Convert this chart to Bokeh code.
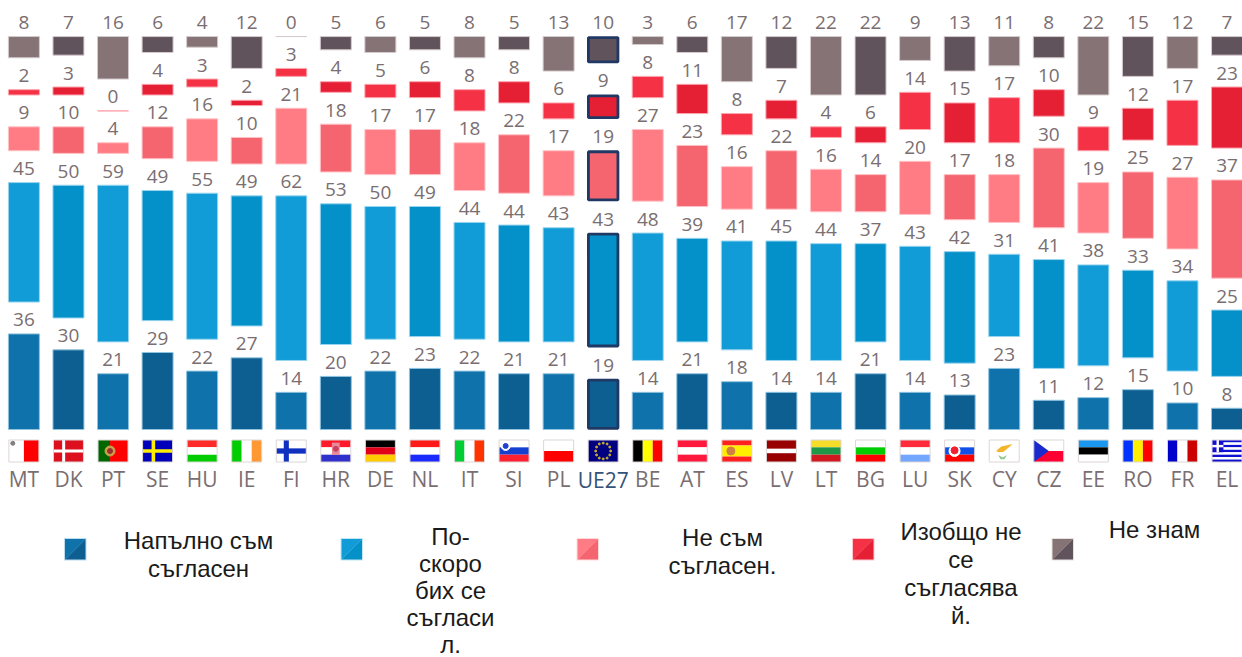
from bokeh.plotting import figure
from bokeh.models import Range1d, ColumnDataSource, FixedTicker
from bokeh.core.properties import value
from bokeh.embed import file_html
from bokeh.resources import INLINE

categories = ["MT","DK","PT","SE","HU","IE","FI","HR","DE","NL","IT","SI","PL","UE27",
              "BE","AT","ES","LV","LT","BG","LU","SK","CY","CZ","EE","RO","FR","EL"]
fully_agree = [36,30,21,29,22,27,14,20,22,23,22,21,21,19,14,21,18,14,14,21,14,13,23,11,12,15,10,8]
tend_agree = [45,50,59,49,55,49,62,53,50,49,44,44,43,43,48,39,41,45,44,37,43,42,31,41,38,33,34,25]
tend_disagree = [9,10,4,12,16,10,21,18,17,17,18,22,17,19,27,23,16,22,16,14,20,17,18,30,19,25,27,37]
fully_disagree = [2,3,0,4,3,2,3,4,5,6,8,8,6,9,8,11,8,7,4,6,14,15,17,10,9,12,17,23]
dont_know = [8,7,16,6,4,12,0,5,6,5,8,5,13,10,3,6,17,12,22,22,9,13,11,8,22,15,12,7]
series = [fully_agree, tend_agree, tend_disagree, fully_disagree, dont_know]

legend_lines = [
    ["Напълно съм", "съгласен"],
    ["По-", "скоро", "бих се", "съгласи", "л."],
    ["Не съм", "съгласен."],
    ["Изобщо не", "се", "съгласява", "й."],
    ["Не знам"],
]
light = ["#0F72AB", "#119CD8", "#FF7C85", "#F53145", "#857375"]
dark = ["#0E5F91", "#0490C9", "#F5656F", "#E52035", "#61535C"]
edge = ["#8FC3DF", "#9AD5EE", "#FFC2C6", "#FBA5AE", "#D5CBCD"]
TEXT = "#7A6E71"
NAVY = "#1F3864"

W, H_PAGE = 1242, 657
PX_X = 44.56
PX_Y = 2.655
GAP = 12
BASE_Y = 429
FIRST_X = 23.4

x_start = -FIRST_X / PX_X
y_top = BASE_Y / PX_Y
y_bot = (BASE_Y - H_PAGE) / PX_Y

p = figure(frame_width=W, frame_height=H_PAGE,
           x_range=Range1d(x_start, x_start + W / PX_X),
           y_range=Range1d(y_bot, y_top),
           output_backend="svg", toolbar_location=None,
           min_border_left=0, min_border_right=0, min_border_top=0, min_border_bottom=0,
           x_axis_location="below", y_axis_location=None)
p.extra_x_ranges = {"px": Range1d(0, W)}
p.extra_y_ranges = {"px": Range1d(H_PAGE, 0)}
p.grid.visible = False
p.outline_line_color = None
p.background_fill_color = None

# stacked bars with a constant gap between the segments
lefts = [0] * len(categories)
idx = list(range(len(categories)))
UE = categories.index("UE27")
for s, vals in enumerate(series):
    bottoms = [lefts[i] + (GAP if s else 0) for i in idx]
    tops = [b + v for b, v in zip(bottoms, vals)]
    colors = [light[s] if i % 2 == 0 else dark[s] for i in idx]
    normal = [i for i in idx if i != UE]
    src = ColumnDataSource(dict(x=normal, b=[bottoms[i] for i in normal], t=[tops[i] for i in normal],
                                c=[colors[i] for i in normal]))
    p.vbar(x="x", bottom="b", top="t", width=31 / PX_X, fill_color="c", line_color=edge[s],
           line_width=1, source=src)
    src2 = ColumnDataSource(dict(x=[UE], b=[bottoms[UE] + 1.2 / PX_Y], t=[tops[UE] - 1.0 / PX_Y], c=[colors[UE]]))
    p.vbar(x="x", bottom="b", top="t", width=29.5 / PX_X, fill_color="c", line_color=NAVY,
           line_width=2.8, source=src2)
    lab = ColumnDataSource(dict(x=idx, y=tops, t=[str(v) for v in vals]))
    p.text(x="x", y="y", text="t", source=lab, text_align="center", text_baseline="middle",
           y_offset=-14, text_font=value("Open Sans"), text_font_size="19px", text_color=TEXT)
    lefts = tops

# flags, drawn in the space between the bars and the country codes
FLAG_W, FLAG_H, FLAG_TOP = 30, 22, 10.5
def fx(i, u):
    return i + (u - 0.5) * FLAG_W / PX_X
def fy(v):
    return -(FLAG_TOP + FLAG_H * v) / PX_Y

polys = dict(xs=[], ys=[], c=[])
dots = dict(x=[], y=[], c=[], s=[])
def rect(i, u0, v0, u1, v1, c):
    polys["xs"].append([fx(i, u0), fx(i, u1), fx(i, u1), fx(i, u0)])
    polys["ys"].append([fy(v0), fy(v0), fy(v1), fy(v1)])
    polys["c"].append(c)
def poly(i, pts, c):
    polys["xs"].append([fx(i, a) for a, b in pts])
    polys["ys"].append([fy(b) for a, b in pts])
    polys["c"].append(c)
def dot(i, u, v, c, s):
    dots["x"].append(fx(i, u)); dots["y"].append(fy(v)); dots["c"].append(c); dots["s"].append(s)
def hstripes(i, cols, sizes=None):
    sizes = sizes or [1] * len(cols)
    tot, acc = sum(sizes), 0
    for c, sz in zip(cols, sizes):
        rect(i, 0, acc / tot, 1, (acc + sz) / tot, c)
        acc += sz
def vstripes(i, cols, sizes=None):
    sizes = sizes or [1] * len(cols)
    tot, acc = sum(sizes), 0
    for c, sz in zip(cols, sizes):
        rect(i, acc / tot, 0, (acc + sz) / tot, 1, c)
        acc += sz

H = {"HU": ["#FF2A2A", "#FFFFFF", "#00CC00"], "DE": ["#000000", "#E0001A", "#FFCC00"],
     "NL": ["#FF1A1A", "#FFFFFF", "#1A2AFF"], "AT": ["#FF1A3D", "#FFFFFF", "#FF1A3D"],
     "LT": ["#F5DD2A", "#1F9748", "#D01820"], "BG": ["#FFFFFF", "#00CC00", "#FF0000"],
     "LU": ["#FF2A3A", "#FFFFFF", "#73A6FF"], "EE": ["#1A98F0", "#000000", "#FFFFFF"],
     "HR": ["#FF1A2A", "#FFFFFF", "#3030CC"], "SI": ["#FFFFFF", "#1540D0", "#FF2030"],
     "SK": ["#FFFFFF", "#1050E8", "#FF0000"]}
V = {"IE": ["#00CC00", "#FFFFFF", "#FF9933"], "IT": ["#00CC33", "#FFFFFF", "#FF3300"],
     "BE": ["#000000", "#FFFF00", "#FF0000"], "RO": ["#0033FF", "#FFEE00", "#FF0000"],
     "FR": ["#0000CC", "#FFFFFF", "#CC0000"]}
GROUP = {c: i for i, c in enumerate(categories)}
for name, cols in H.items():
    hstripes(GROUP[name], cols)
for name, cols in V.items():
    vstripes(GROUP[name], cols)
i = GROUP["MT"]; vstripes(i, ["#FFFFFF", "#FF0000"]); dot(i, 0.13, 0.15, "#808080", 4)
i = GROUP["DK"]; rect(i, 0, 0, 1, 1, "#DD1020"); rect(i, 0.29, 0, 0.39, 1, "#FFFFFF"); rect(i, 0, 0.43, 1, 0.57, "#FFFFFF")
i = GROUP["PT"]; vstripes(i, ["#006600", "#FF0000"], [2, 3]); dot(i, 0.4, 0.5, "#C9A24A", 10); dot(i, 0.4, 0.5, "#9A3030", 5)
i = GROUP["SE"]; rect(i, 0, 0, 1, 1, "#0000BB"); rect(i, 0.3, 0, 0.42, 1, "#FFEE00"); rect(i, 0, 0.42, 1, 0.58, "#FFEE00")
i = GROUP["FI"]; rect(i, 0, 0, 1, 1, "#FFFFFF"); rect(i, 0.25, 0, 0.42, 1, "#1030C0"); rect(i, 0, 0.38, 1, 0.62, "#1030C0")
i = GROUP["HR"]; rect(i, 0.37, 0.12, 0.63, 0.68, "#E88A9A"); dot(i, 0.5, 0.4, "#C94060", 5)
i = GROUP["SI"]; dot(i, 0.22, 0.27, "#FFFFFF", 9); dot(i, 0.22, 0.27, "#2040D0", 5)
i = GROUP["PL"]; hstripes(i, ["#FFFFFF", "#FF0000"])
i = GROUP["UE27"]; rect(i, 0, 0, 1, 1, "#000080")
ring = [(0.5, 0.14), (0.63, 0.18), (0.72, 0.32), (0.75, 0.5), (0.72, 0.68), (0.63, 0.82),
        (0.5, 0.86), (0.37, 0.82), (0.28, 0.68), (0.25, 0.5), (0.28, 0.32), (0.37, 0.18)]
for a, b in ring:
    dot(i, a, b, "#C9B030", 2)
i = GROUP["ES"]; hstripes(i, ["#FF2020", "#FFEE00", "#FF2020"], [1, 2, 1]); dot(i, 0.3, 0.5, "#D08040", 8)
i = GROUP["LV"]; hstripes(i, ["#990000", "#FFFFFF", "#990000"], [2, 1, 2])
i = GROUP["SK"]; dot(i, 0.33, 0.5, "#FFFFFF", 11); dot(i, 0.33, 0.47, "#F02030", 7)
i = GROUP["CY"]; rect(i, 0, 0, 1, 1, "#FFFFFF")
poly(i, [(0.23, 0.5), (0.4, 0.3), (0.78, 0.18), (0.62, 0.38), (0.47, 0.55), (0.3, 0.55)], "#F5B52A")
poly(i, [(0.3, 0.68), (0.45, 0.8), (0.6, 0.68), (0.5, 0.88), (0.38, 0.88)], "#8CC98C")
i = GROUP["CZ"]; hstripes(i, ["#FFFFFF", "#FF0033"]); poly(i, [(0, 0), (0.5, 0.5), (0, 1)], "#1A2ACC")
i = GROUP["EL"]; hstripes(i, ["#1010D0", "#FFFFFF"] * 4 + ["#1010D0"])
rect(i, 0, 0, 0.38, 5 / 9, "#1010D0"); rect(i, 0.15, 0, 0.23, 5 / 9, "#FFFFFF"); rect(i, 0, 2 / 9, 0.38, 3 / 9, "#FFFFFF")

p.patches("xs", "ys", fill_color="c", line_color=None, source=ColumnDataSource(polys))
p.quad(left=[fx(k, 0) for k in idx], right=[fx(k, 1) for k in idx], top=[fy(0)] * len(idx), bottom=[fy(1)] * len(idx),
       fill_color=None, line_color="#DDD6D6", line_width=1)
p.scatter("x", "y", size="s", color="c", marker="circle", source=ColumnDataSource(dots))

# country codes: the axis sits at the foot of the page, its labels are pulled up below the flags
ax = p.xaxis[0]
ax.ticker = FixedTicker(ticks=idx)
ax.major_label_overrides = {i: ("" if c == "UE27" else c) for i, c in enumerate(categories)}
ax.axis_line_color = None
ax.major_tick_line_color = None
ax.minor_tick_line_color = None
ax.major_tick_out = 0
ax.major_tick_in = 0
ax.major_label_standoff = -193
ax.major_label_text_font = "Open Sans"
ax.major_label_text_font_size = "21px"
ax.major_label_text_color = TEXT
p.text(x=[UE], y=[(BASE_Y - 479) / PX_Y], text=["UE27"], text_align="center", text_baseline="middle",
       text_font=value("Open Sans"), text_font_size="21px", text_color="#34527A")

# legend
swatch_x = [64.5, 341, 577, 852.5, 1052]
text_x = [198, 450, 722, 960.5, 1154]
text_y0 = [540, 536, 537, 531, 529]
line_step = [28, 27, 28, 28, 28]
for s in range(5):
    sx, sy, w = swatch_x[s], 538.5, 20.5
    kw = dict(x_range_name="px", y_range_name="px")
    p.quad(left=[sx - 1], right=[sx + w + 1], top=[sy - 1], bottom=[sy + w + 1],
           fill_color=edge[s], line_color=None, fill_alpha=0.6, **kw)
    p.patch([sx, sx + w, sx], [sy, sy, sy + w], fill_color=light[s], line_color=None, **kw)
    p.patch([sx + w, sx + w, sx], [sy, sy + w, sy + w], fill_color=dark[s], line_color=None, **kw)
    ys = [text_y0[s] + line_step[s] * k for k in range(len(legend_lines[s]))]
    p.text(x=[text_x[s]] * len(ys), y=ys, text=legend_lines[s], text_align="center",
           text_baseline="middle", text_font=value("Liberation Sans"), text_font_size="24px",
           text_color="#1A1A1A", **kw)

open("out.html", "w").write(file_html(p, INLINE))
